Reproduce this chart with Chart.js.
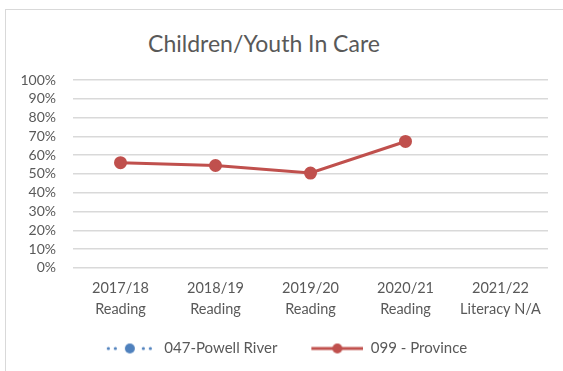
<!DOCTYPE html>
<html>
<head>
<meta charset="utf-8">
<script src="https://cdn.jsdelivr.net/npm/chart.js@4/dist/chart.umd.min.js"></script>
<style>
  html, body { margin: 0; padding: 0; background: #fff; }
  #wrap { position: relative; width: 563px; height: 371px; overflow: hidden; }
  #frame { position: absolute; left: 5px; top: 9px; width: 600px; height: 400px;
           border-left: 1px solid #d9d9d9; border-top: 1px solid #d9d9d9; }
  #title { position: absolute; left: 0; top: 29px; width: 528px; text-align: center;
           font: 23px Lato, sans-serif; color: #595959; line-height: 28px; }
  canvas { position: absolute; left: 0; top: 0; }
</style>
</head>
<body>
<div id="wrap">
  <div id="frame"></div>
  <div id="title">Children/Youth In Care</div>
  <canvas id="chartCIC" width="563" height="371"></canvas>
</div>
<script>
var categories = [['2017/18', 'Reading'], ['2018/19', 'Reading'], ['2019/20', 'Reading'], ['2020/21', 'Reading'], ['2021/22', 'Literacy N/A']];
var powellRiver = [null, null, null, null, null];
var province = [56, 54.5, 50.5, 67.3, null];
var seriesNames = ['047-Powell River', '099 - Province'];
var textColor = '#595959';
var blue = '#4F81BD';
var red = '#C0504D';

// little line + marker pictures for the legend (blank lead-in keeps the gap between items)
function legendIcon(color, dotted) {
    var c = document.createElement('canvas');
    c.width = 76; c.height = 12;
    var g = c.getContext('2d');
    g.fillStyle = color;
    g.strokeStyle = color;
    if (dotted) {
        [26, 33, 61, 68].forEach(function (x) {
            g.beginPath(); g.arc(x + 1.5, 6, 1.6, 0, Math.PI * 2); g.fill();
        });
        g.beginPath(); g.arc(49, 6, 5, 0, Math.PI * 2); g.fill();
    } else {
        g.lineWidth = 3;
        g.beginPath(); g.moveTo(24, 6); g.lineTo(76, 6); g.stroke();
        g.beginPath(); g.arc(50, 6, 5, 0, Math.PI * 2); g.fill();
    }
    return c;
}

var ctx = document.getElementById('chartCIC').getContext('2d');
var chart = new Chart(ctx, {
    type: 'line',
    data: {
        labels: categories,
        datasets: [{
            label: seriesNames[0],
            data: powellRiver,
            borderColor: blue,
            backgroundColor: blue,
            borderWidth: 3,
            borderDash: [2, 5],
            pointRadius: 5,
        }, {
            label: seriesNames[1],
            data: province,
            borderColor: red,
            backgroundColor: red,
            borderWidth: 3,
            pointRadius: 5,
            pointHoverRadius: 5,
        }]
    },
    options: {
        responsive: false,
        animation: false,
        layout: { padding: { left: 0, right: 15, top: 80, bottom: 5 } },
        plugins: {
            title: { display: false },
            tooltip: { enabled: false },
            legend: {
                position: 'bottom',
                labels: {
                    usePointStyle: true,
                    pointStyleWidth: 76,
                    padding: 10,
                    color: textColor,
                    font: { family: 'Lato', size: 15 },
                    generateLabels: function (ch) {
                        return ch.data.datasets.map(function (ds, i) {
                            return {
                                text: ds.label,
                                pointStyle: legendIcon(ds.borderColor, i === 0),
                                fillStyle: ds.borderColor,
                                strokeStyle: 'rgba(0,0,0,0)',
                                lineWidth: 0,
                                fontColor: textColor,
                                hidden: false,
                                datasetIndex: i
                            };
                        });
                    }
                }
            }
        },
        scales: {
            x: {
                offset: true,
                afterFit: function (axis) { axis.height += 1; },
                grid: { display: false, drawTicks: false },
                border: { display: false },
                ticks: {
                    color: textColor,
                    padding: 10,
                    maxRotation: 0,
                    autoSkip: false,
                    font: { family: 'Lato', size: 14.5, lineHeight: 1.45 }
                }
            },
            y: {
                min: 0,
                max: 100,
                afterFit: function (axis) { axis.width = 73; },
                grid: { color: '#d9d9d9', lineWidth: 1.5, drawTicks: false },
                border: { display: false },
                ticks: {
                    stepSize: 10,
                    autoSkip: false,
                    padding: 17,
                    color: textColor,
                    font: { family: 'Lato', size: 14 },
                    callback: function (v) { return v + '%'; }
                }
            }
        }
    }
});
</script>
</body>
</html>
